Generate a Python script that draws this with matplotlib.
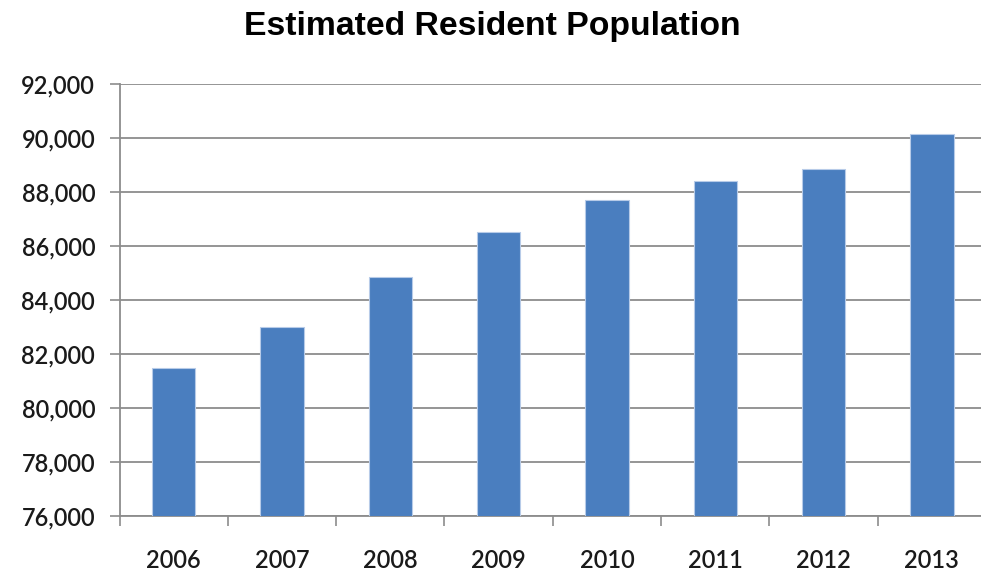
import matplotlib
matplotlib.use("Agg")
import matplotlib.pyplot as plt
from matplotlib.ticker import FuncFormatter, FixedLocator

years = ["2006", "2007", "2008", "2009", "2010", "2011", "2012", "2013"]
population = [81480, 83010, 84860, 86520, 87700, 88410, 88850, 90160]
y_ticks = [76000, 78000, 80000, 82000, 84000, 86000, 88000, 90000, 92000]

fig = plt.figure(figsize=(9.81, 5.73), dpi=100)
ax = fig.add_axes([119.5/981, 1-516/573, (986-119.5)/981, (516-84)/573])

x = list(range(len(years)))
ax.bar(x, population, width=0.4, color="#4A7EBF", edgecolor="#B7CBE8",
       linewidth=0.8, zorder=3)

ax.set_xlim(-0.5, len(years) - 0.5)
ax.set_ylim(y_ticks[0], y_ticks[-1])
ax.set_yticks(y_ticks)
ax.yaxis.set_major_formatter(FuncFormatter(lambda v, p: f"{int(v):,}"))
ax.grid(axis="y", color="#8C8C8C", linewidth=1.3, zorder=0)

ax.set_xticks(x)
ax.set_xticklabels(years)
ax.xaxis.set_minor_locator(FixedLocator([i + 0.5 for i in range(-1, len(years))]))
ax.tick_params(axis="x", which="major", length=0, pad=24, labelsize=17)
ax.tick_params(axis="x", which="minor", length=7.5, width=1.2, color="#8C8C8C", direction="out")
ax.tick_params(axis="y", length=7.5, width=1.2, color="#8C8C8C", pad=10, labelsize=17)

for lab in ax.get_xticklabels() + ax.get_yticklabels():
    lab.set_family(["Lato", "DejaVu Sans"])
    lab.set_fontweight(600)
    lab.set_color("#1a1a1a")

for s in ["top", "right"]:
    ax.spines[s].set_visible(False)
ax.spines["left"].set_color("#8C8C8C")
ax.spines["left"].set_linewidth(1.3)
ax.spines["bottom"].set_color("#8C8C8C")
ax.spines["bottom"].set_linewidth(1.3)

fig.text(492/981, 1-26/573, "Estimated Resident Population", ha="center", va="center",
         fontsize=24.3, fontweight="bold", family=["Liberation Sans", "DejaVu Sans"])

fig.savefig("out.png", dpi=100)
